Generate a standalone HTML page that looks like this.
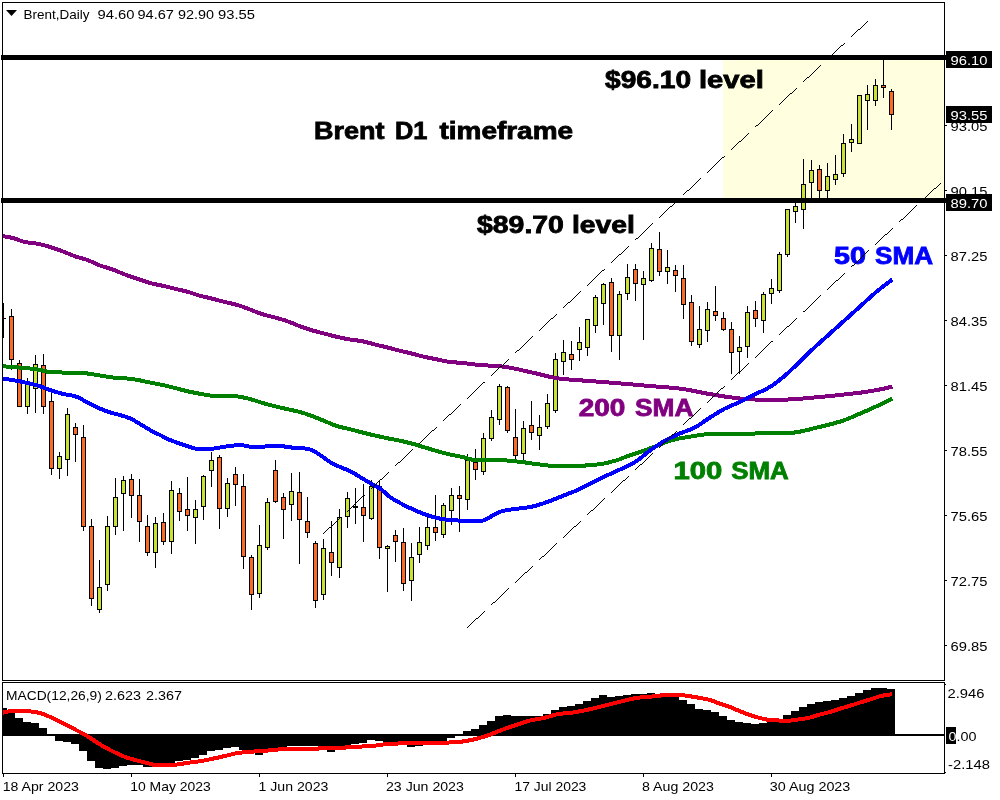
<!DOCTYPE html>
<html lang="en"><head><meta charset="utf-8"><title>Brent Daily chart</title>
<style>html,body{margin:0;padding:0;background:#fff}body{width:1000px;height:800px;overflow:hidden;font-family:"Liberation Sans", sans-serif}svg{display:block}.ax{font-family:"Liberation Sans", sans-serif;font-size:13.6px;fill:#000}.lbl{font-family:"Liberation Sans", sans-serif;font-weight:bold;font-size:24px;stroke-linejoin:miter;paint-order:stroke fill}</style></head><body>
<svg width="1000" height="800" viewBox="0 0 1000 800">
<rect width="1000" height="800" fill="#fff"/>
<rect x="723" y="60" width="221" height="138" fill="#FFFFE0" shape-rendering="crispEdges"/>
<defs><clipPath id="cp"><rect x="3" y="3" width="941" height="677"/></clipPath><clipPath id="cm"><rect x="3" y="683" width="941" height="90"/></clipPath></defs>
<g shape-rendering="crispEdges" clip-path="url(#cp)">
<rect x="3" y="303" width="1" height="35" fill="#000"/>
<rect x="1" y="318" width="5" height="1" fill="#000"/>
<rect x="11" y="309" width="1" height="61" fill="#000"/>
<rect x="9" y="316" width="5" height="44" fill="#000"/>
<rect x="10" y="317" width="3" height="42" fill="#FB6A25"/>
<rect x="19" y="360" width="1" height="47" fill="#000"/>
<rect x="17" y="363" width="5" height="44" fill="#000"/>
<rect x="18" y="364" width="3" height="42" fill="#FB6A25"/>
<rect x="27" y="378" width="1" height="36" fill="#000"/>
<rect x="25" y="384" width="5" height="23" fill="#000"/>
<rect x="26" y="385" width="3" height="21" fill="#C9E034"/>
<rect x="35" y="355" width="1" height="58" fill="#000"/>
<rect x="33" y="364" width="5" height="25" fill="#000"/>
<rect x="34" y="365" width="3" height="23" fill="#C9E034"/>
<rect x="43" y="354" width="1" height="60" fill="#000"/>
<rect x="41" y="365" width="5" height="42" fill="#000"/>
<rect x="42" y="366" width="3" height="40" fill="#FB6A25"/>
<rect x="51" y="392" width="1" height="83" fill="#000"/>
<rect x="49" y="401" width="5" height="68" fill="#000"/>
<rect x="50" y="402" width="3" height="66" fill="#FB6A25"/>
<rect x="59" y="452" width="1" height="27" fill="#000"/>
<rect x="57" y="456" width="5" height="13" fill="#000"/>
<rect x="58" y="457" width="3" height="11" fill="#C9E034"/>
<rect x="67" y="408" width="1" height="68" fill="#000"/>
<rect x="65" y="414" width="5" height="46" fill="#000"/>
<rect x="66" y="415" width="3" height="44" fill="#C9E034"/>
<rect x="75" y="423" width="1" height="39" fill="#000"/>
<rect x="73" y="427" width="5" height="8" fill="#000"/>
<rect x="74" y="428" width="3" height="6" fill="#FB6A25"/>
<rect x="83" y="425" width="1" height="106" fill="#000"/>
<rect x="81" y="437" width="5" height="90" fill="#000"/>
<rect x="82" y="438" width="3" height="88" fill="#FB6A25"/>
<rect x="91" y="519" width="1" height="87" fill="#000"/>
<rect x="89" y="526" width="5" height="73" fill="#000"/>
<rect x="90" y="527" width="3" height="71" fill="#FB6A25"/>
<rect x="99" y="560" width="1" height="53" fill="#000"/>
<rect x="97" y="587" width="5" height="23" fill="#000"/>
<rect x="98" y="588" width="3" height="21" fill="#C9E034"/>
<rect x="107" y="516" width="1" height="75" fill="#000"/>
<rect x="105" y="526" width="5" height="59" fill="#000"/>
<rect x="106" y="527" width="3" height="57" fill="#C9E034"/>
<rect x="115" y="478" width="1" height="57" fill="#000"/>
<rect x="113" y="497" width="5" height="30" fill="#000"/>
<rect x="114" y="498" width="3" height="28" fill="#C9E034"/>
<rect x="123" y="476" width="1" height="55" fill="#000"/>
<rect x="121" y="480" width="5" height="14" fill="#000"/>
<rect x="122" y="481" width="3" height="12" fill="#C9E034"/>
<rect x="131" y="474" width="1" height="44" fill="#000"/>
<rect x="129" y="479" width="5" height="17" fill="#000"/>
<rect x="130" y="480" width="3" height="15" fill="#FB6A25"/>
<rect x="139" y="479" width="1" height="63" fill="#000"/>
<rect x="137" y="495" width="5" height="27" fill="#000"/>
<rect x="138" y="496" width="3" height="25" fill="#FB6A25"/>
<rect x="147" y="515" width="1" height="41" fill="#000"/>
<rect x="145" y="526" width="5" height="27" fill="#000"/>
<rect x="146" y="527" width="3" height="25" fill="#FB6A25"/>
<rect x="155" y="517" width="1" height="51" fill="#000"/>
<rect x="153" y="523" width="5" height="30" fill="#000"/>
<rect x="154" y="524" width="3" height="28" fill="#C9E034"/>
<rect x="163" y="513" width="1" height="32" fill="#000"/>
<rect x="161" y="522" width="5" height="20" fill="#000"/>
<rect x="162" y="523" width="3" height="18" fill="#FB6A25"/>
<rect x="171" y="481" width="1" height="73" fill="#000"/>
<rect x="169" y="490" width="5" height="52" fill="#000"/>
<rect x="170" y="491" width="3" height="50" fill="#C9E034"/>
<rect x="179" y="488" width="1" height="33" fill="#000"/>
<rect x="177" y="493" width="5" height="19" fill="#000"/>
<rect x="178" y="494" width="3" height="17" fill="#FB6A25"/>
<rect x="187" y="477" width="1" height="54" fill="#000"/>
<rect x="185" y="509" width="5" height="7" fill="#000"/>
<rect x="186" y="510" width="3" height="5" fill="#FB6A25"/>
<rect x="195" y="500" width="1" height="44" fill="#000"/>
<rect x="193" y="509" width="5" height="9" fill="#000"/>
<rect x="194" y="510" width="3" height="7" fill="#C9E034"/>
<rect x="203" y="475" width="1" height="45" fill="#000"/>
<rect x="201" y="476" width="5" height="31" fill="#000"/>
<rect x="202" y="477" width="3" height="29" fill="#C9E034"/>
<rect x="211" y="452" width="1" height="35" fill="#000"/>
<rect x="209" y="460" width="5" height="11" fill="#000"/>
<rect x="210" y="461" width="3" height="9" fill="#C9E034"/>
<rect x="219" y="455" width="1" height="74" fill="#000"/>
<rect x="217" y="457" width="5" height="52" fill="#000"/>
<rect x="218" y="458" width="3" height="50" fill="#FB6A25"/>
<rect x="227" y="478" width="1" height="39" fill="#000"/>
<rect x="225" y="483" width="5" height="26" fill="#000"/>
<rect x="226" y="484" width="3" height="24" fill="#C9E034"/>
<rect x="235" y="467" width="1" height="39" fill="#000"/>
<rect x="233" y="474" width="5" height="11" fill="#000"/>
<rect x="234" y="475" width="3" height="9" fill="#FB6A25"/>
<rect x="243" y="474" width="1" height="95" fill="#000"/>
<rect x="241" y="486" width="5" height="71" fill="#000"/>
<rect x="242" y="487" width="3" height="69" fill="#FB6A25"/>
<rect x="251" y="555" width="1" height="55" fill="#000"/>
<rect x="249" y="557" width="5" height="38" fill="#000"/>
<rect x="250" y="558" width="3" height="36" fill="#FB6A25"/>
<rect x="259" y="525" width="1" height="73" fill="#000"/>
<rect x="257" y="545" width="5" height="49" fill="#000"/>
<rect x="258" y="546" width="3" height="47" fill="#C9E034"/>
<rect x="267" y="498" width="1" height="52" fill="#000"/>
<rect x="265" y="502" width="5" height="46" fill="#000"/>
<rect x="266" y="503" width="3" height="44" fill="#C9E034"/>
<rect x="275" y="460" width="1" height="43" fill="#000"/>
<rect x="273" y="470" width="5" height="32" fill="#000"/>
<rect x="274" y="471" width="3" height="30" fill="#FB6A25"/>
<rect x="283" y="493" width="1" height="46" fill="#000"/>
<rect x="281" y="497" width="5" height="13" fill="#000"/>
<rect x="282" y="498" width="3" height="11" fill="#FB6A25"/>
<rect x="291" y="473" width="1" height="48" fill="#000"/>
<rect x="289" y="491" width="5" height="14" fill="#000"/>
<rect x="290" y="492" width="3" height="12" fill="#C9E034"/>
<rect x="299" y="472" width="1" height="92" fill="#000"/>
<rect x="297" y="492" width="5" height="28" fill="#000"/>
<rect x="298" y="493" width="3" height="26" fill="#FB6A25"/>
<rect x="307" y="497" width="1" height="41" fill="#000"/>
<rect x="305" y="521" width="5" height="12" fill="#000"/>
<rect x="306" y="522" width="3" height="10" fill="#FB6A25"/>
<rect x="315" y="541" width="1" height="67" fill="#000"/>
<rect x="313" y="543" width="5" height="58" fill="#000"/>
<rect x="314" y="544" width="3" height="56" fill="#FB6A25"/>
<rect x="323" y="539" width="1" height="61" fill="#000"/>
<rect x="321" y="548" width="5" height="47" fill="#000"/>
<rect x="322" y="549" width="3" height="45" fill="#C9E034"/>
<rect x="331" y="521" width="1" height="55" fill="#000"/>
<rect x="329" y="552" width="5" height="11" fill="#000"/>
<rect x="330" y="553" width="3" height="9" fill="#FB6A25"/>
<rect x="339" y="509" width="1" height="69" fill="#000"/>
<rect x="337" y="517" width="5" height="51" fill="#000"/>
<rect x="338" y="518" width="3" height="49" fill="#C9E034"/>
<rect x="347" y="492" width="1" height="36" fill="#000"/>
<rect x="345" y="498" width="5" height="19" fill="#000"/>
<rect x="346" y="499" width="3" height="17" fill="#C9E034"/>
<rect x="355" y="488" width="1" height="36" fill="#000"/>
<rect x="353" y="506" width="5" height="2" fill="#000"/>
<rect x="363" y="484" width="1" height="58" fill="#000"/>
<rect x="361" y="507" width="5" height="9" fill="#000"/>
<rect x="362" y="508" width="3" height="7" fill="#FB6A25"/>
<rect x="371" y="480" width="1" height="40" fill="#000"/>
<rect x="369" y="486" width="5" height="33" fill="#000"/>
<rect x="370" y="487" width="3" height="31" fill="#C9E034"/>
<rect x="379" y="481" width="1" height="78" fill="#000"/>
<rect x="377" y="486" width="5" height="62" fill="#000"/>
<rect x="378" y="487" width="3" height="60" fill="#FB6A25"/>
<rect x="387" y="545" width="1" height="47" fill="#000"/>
<rect x="385" y="546" width="5" height="3" fill="#000"/>
<rect x="386" y="547" width="3" height="1" fill="#C9E034"/>
<rect x="395" y="530" width="1" height="32" fill="#000"/>
<rect x="393" y="535" width="5" height="7" fill="#000"/>
<rect x="394" y="536" width="3" height="5" fill="#FB6A25"/>
<rect x="403" y="528" width="1" height="63" fill="#000"/>
<rect x="401" y="542" width="5" height="42" fill="#000"/>
<rect x="402" y="543" width="3" height="40" fill="#FB6A25"/>
<rect x="411" y="543" width="1" height="58" fill="#000"/>
<rect x="409" y="557" width="5" height="24" fill="#000"/>
<rect x="410" y="558" width="3" height="22" fill="#C9E034"/>
<rect x="419" y="527" width="1" height="36" fill="#000"/>
<rect x="417" y="542" width="5" height="13" fill="#000"/>
<rect x="418" y="543" width="3" height="11" fill="#C9E034"/>
<rect x="427" y="516" width="1" height="34" fill="#000"/>
<rect x="425" y="527" width="5" height="19" fill="#000"/>
<rect x="426" y="528" width="3" height="17" fill="#C9E034"/>
<rect x="435" y="495" width="1" height="46" fill="#000"/>
<rect x="433" y="527" width="5" height="6" fill="#000"/>
<rect x="434" y="528" width="3" height="4" fill="#FB6A25"/>
<rect x="443" y="503" width="1" height="35" fill="#000"/>
<rect x="441" y="505" width="5" height="30" fill="#000"/>
<rect x="442" y="506" width="3" height="28" fill="#C9E034"/>
<rect x="451" y="488" width="1" height="37" fill="#000"/>
<rect x="449" y="495" width="5" height="16" fill="#000"/>
<rect x="450" y="496" width="3" height="14" fill="#C9E034"/>
<rect x="459" y="486" width="1" height="46" fill="#000"/>
<rect x="457" y="495" width="5" height="4" fill="#000"/>
<rect x="458" y="496" width="3" height="2" fill="#FB6A25"/>
<rect x="467" y="454" width="1" height="56" fill="#000"/>
<rect x="465" y="460" width="5" height="40" fill="#000"/>
<rect x="466" y="461" width="3" height="38" fill="#C9E034"/>
<rect x="475" y="449" width="1" height="31" fill="#000"/>
<rect x="473" y="462" width="5" height="8" fill="#000"/>
<rect x="474" y="463" width="3" height="6" fill="#FB6A25"/>
<rect x="483" y="433" width="1" height="42" fill="#000"/>
<rect x="481" y="438" width="5" height="34" fill="#000"/>
<rect x="482" y="439" width="3" height="32" fill="#C9E034"/>
<rect x="491" y="410" width="1" height="31" fill="#000"/>
<rect x="489" y="417" width="5" height="22" fill="#000"/>
<rect x="490" y="418" width="3" height="20" fill="#C9E034"/>
<rect x="499" y="384" width="1" height="41" fill="#000"/>
<rect x="497" y="386" width="5" height="34" fill="#000"/>
<rect x="498" y="387" width="3" height="32" fill="#C9E034"/>
<rect x="507" y="386" width="1" height="47" fill="#000"/>
<rect x="505" y="387" width="5" height="44" fill="#000"/>
<rect x="506" y="388" width="3" height="42" fill="#FB6A25"/>
<rect x="515" y="409" width="1" height="51" fill="#000"/>
<rect x="513" y="437" width="5" height="19" fill="#000"/>
<rect x="514" y="438" width="3" height="17" fill="#FB6A25"/>
<rect x="523" y="421" width="1" height="39" fill="#000"/>
<rect x="521" y="428" width="5" height="26" fill="#000"/>
<rect x="522" y="429" width="3" height="24" fill="#C9E034"/>
<rect x="531" y="401" width="1" height="39" fill="#000"/>
<rect x="529" y="425" width="5" height="8" fill="#000"/>
<rect x="530" y="426" width="3" height="6" fill="#FB6A25"/>
<rect x="539" y="415" width="1" height="35" fill="#000"/>
<rect x="537" y="427" width="5" height="9" fill="#000"/>
<rect x="538" y="428" width="3" height="7" fill="#C9E034"/>
<rect x="547" y="394" width="1" height="35" fill="#000"/>
<rect x="545" y="403" width="5" height="24" fill="#000"/>
<rect x="546" y="404" width="3" height="22" fill="#C9E034"/>
<rect x="555" y="353" width="1" height="60" fill="#000"/>
<rect x="553" y="359" width="5" height="52" fill="#000"/>
<rect x="554" y="360" width="3" height="50" fill="#C9E034"/>
<rect x="563" y="340" width="1" height="35" fill="#000"/>
<rect x="561" y="352" width="5" height="10" fill="#000"/>
<rect x="562" y="353" width="3" height="8" fill="#C9E034"/>
<rect x="571" y="341" width="1" height="29" fill="#000"/>
<rect x="569" y="354" width="5" height="6" fill="#000"/>
<rect x="570" y="355" width="3" height="4" fill="#FB6A25"/>
<rect x="579" y="327" width="1" height="34" fill="#000"/>
<rect x="577" y="342" width="5" height="8" fill="#000"/>
<rect x="578" y="343" width="3" height="6" fill="#C9E034"/>
<rect x="587" y="319" width="1" height="37" fill="#000"/>
<rect x="585" y="319" width="5" height="29" fill="#000"/>
<rect x="586" y="320" width="3" height="27" fill="#C9E034"/>
<rect x="595" y="295" width="1" height="38" fill="#000"/>
<rect x="593" y="297" width="5" height="29" fill="#000"/>
<rect x="594" y="298" width="3" height="27" fill="#C9E034"/>
<rect x="603" y="283" width="1" height="42" fill="#000"/>
<rect x="601" y="284" width="5" height="20" fill="#000"/>
<rect x="602" y="285" width="3" height="18" fill="#C9E034"/>
<rect x="611" y="278" width="1" height="74" fill="#000"/>
<rect x="609" y="282" width="5" height="54" fill="#000"/>
<rect x="610" y="283" width="3" height="52" fill="#FB6A25"/>
<rect x="619" y="291" width="1" height="69" fill="#000"/>
<rect x="617" y="294" width="5" height="42" fill="#000"/>
<rect x="618" y="295" width="3" height="40" fill="#C9E034"/>
<rect x="627" y="264" width="1" height="36" fill="#000"/>
<rect x="625" y="277" width="5" height="17" fill="#000"/>
<rect x="626" y="278" width="3" height="15" fill="#C9E034"/>
<rect x="635" y="264" width="1" height="37" fill="#000"/>
<rect x="633" y="269" width="5" height="15" fill="#000"/>
<rect x="634" y="270" width="3" height="13" fill="#FB6A25"/>
<rect x="643" y="271" width="1" height="69" fill="#000"/>
<rect x="641" y="278" width="5" height="7" fill="#000"/>
<rect x="642" y="279" width="3" height="5" fill="#C9E034"/>
<rect x="651" y="243" width="1" height="39" fill="#000"/>
<rect x="649" y="248" width="5" height="33" fill="#000"/>
<rect x="650" y="249" width="3" height="31" fill="#C9E034"/>
<rect x="659" y="232" width="1" height="44" fill="#000"/>
<rect x="657" y="249" width="5" height="23" fill="#000"/>
<rect x="658" y="250" width="3" height="21" fill="#FB6A25"/>
<rect x="667" y="250" width="1" height="34" fill="#000"/>
<rect x="665" y="267" width="5" height="5" fill="#000"/>
<rect x="666" y="268" width="3" height="3" fill="#C9E034"/>
<rect x="675" y="265" width="1" height="27" fill="#000"/>
<rect x="673" y="270" width="5" height="6" fill="#000"/>
<rect x="674" y="271" width="3" height="4" fill="#FB6A25"/>
<rect x="683" y="265" width="1" height="54" fill="#000"/>
<rect x="681" y="278" width="5" height="27" fill="#000"/>
<rect x="682" y="279" width="3" height="25" fill="#FB6A25"/>
<rect x="691" y="295" width="1" height="51" fill="#000"/>
<rect x="689" y="302" width="5" height="40" fill="#000"/>
<rect x="690" y="303" width="3" height="38" fill="#FB6A25"/>
<rect x="699" y="306" width="1" height="42" fill="#000"/>
<rect x="697" y="329" width="5" height="16" fill="#000"/>
<rect x="698" y="330" width="3" height="14" fill="#C9E034"/>
<rect x="707" y="302" width="1" height="40" fill="#000"/>
<rect x="705" y="309" width="5" height="22" fill="#000"/>
<rect x="706" y="310" width="3" height="20" fill="#C9E034"/>
<rect x="715" y="286" width="1" height="35" fill="#000"/>
<rect x="713" y="311" width="5" height="5" fill="#000"/>
<rect x="714" y="312" width="3" height="3" fill="#FB6A25"/>
<rect x="723" y="312" width="1" height="19" fill="#000"/>
<rect x="721" y="318" width="5" height="12" fill="#000"/>
<rect x="722" y="319" width="3" height="10" fill="#FB6A25"/>
<rect x="731" y="322" width="1" height="52" fill="#000"/>
<rect x="729" y="329" width="5" height="24" fill="#000"/>
<rect x="730" y="330" width="3" height="22" fill="#FB6A25"/>
<rect x="739" y="336" width="1" height="38" fill="#000"/>
<rect x="737" y="347" width="5" height="5" fill="#000"/>
<rect x="738" y="348" width="3" height="3" fill="#C9E034"/>
<rect x="747" y="306" width="1" height="52" fill="#000"/>
<rect x="745" y="312" width="5" height="35" fill="#000"/>
<rect x="746" y="313" width="3" height="33" fill="#C9E034"/>
<rect x="755" y="301" width="1" height="26" fill="#000"/>
<rect x="753" y="310" width="5" height="9" fill="#000"/>
<rect x="754" y="311" width="3" height="7" fill="#FB6A25"/>
<rect x="763" y="292" width="1" height="41" fill="#000"/>
<rect x="761" y="294" width="5" height="27" fill="#000"/>
<rect x="762" y="295" width="3" height="25" fill="#C9E034"/>
<rect x="771" y="279" width="1" height="25" fill="#000"/>
<rect x="769" y="288" width="5" height="6" fill="#000"/>
<rect x="770" y="289" width="3" height="4" fill="#C9E034"/>
<rect x="779" y="252" width="1" height="41" fill="#000"/>
<rect x="777" y="254" width="5" height="37" fill="#000"/>
<rect x="778" y="255" width="3" height="35" fill="#C9E034"/>
<rect x="787" y="209" width="1" height="48" fill="#000"/>
<rect x="785" y="209" width="5" height="46" fill="#000"/>
<rect x="786" y="210" width="3" height="44" fill="#C9E034"/>
<rect x="795" y="200" width="1" height="23" fill="#000"/>
<rect x="793" y="206" width="5" height="6" fill="#000"/>
<rect x="794" y="207" width="3" height="4" fill="#C9E034"/>
<rect x="803" y="159" width="1" height="70" fill="#000"/>
<rect x="801" y="184" width="5" height="26" fill="#000"/>
<rect x="802" y="185" width="3" height="24" fill="#C9E034"/>
<rect x="811" y="160" width="1" height="38" fill="#000"/>
<rect x="809" y="170" width="5" height="13" fill="#000"/>
<rect x="810" y="171" width="3" height="11" fill="#C9E034"/>
<rect x="819" y="165" width="1" height="33" fill="#000"/>
<rect x="817" y="169" width="5" height="22" fill="#000"/>
<rect x="818" y="170" width="3" height="20" fill="#FB6A25"/>
<rect x="827" y="163" width="1" height="35" fill="#000"/>
<rect x="825" y="176" width="5" height="15" fill="#000"/>
<rect x="826" y="177" width="3" height="13" fill="#C9E034"/>
<rect x="835" y="155" width="1" height="30" fill="#000"/>
<rect x="833" y="174" width="5" height="6" fill="#000"/>
<rect x="834" y="175" width="3" height="4" fill="#C9E034"/>
<rect x="843" y="134" width="1" height="43" fill="#000"/>
<rect x="841" y="143" width="5" height="31" fill="#000"/>
<rect x="842" y="144" width="3" height="29" fill="#C9E034"/>
<rect x="851" y="124" width="1" height="28" fill="#000"/>
<rect x="849" y="139" width="5" height="4" fill="#000"/>
<rect x="850" y="140" width="3" height="2" fill="#C9E034"/>
<rect x="859" y="95" width="1" height="49" fill="#000"/>
<rect x="857" y="95" width="5" height="49" fill="#000"/>
<rect x="858" y="96" width="3" height="47" fill="#C9E034"/>
<rect x="867" y="85" width="1" height="45" fill="#000"/>
<rect x="865" y="94" width="5" height="7" fill="#000"/>
<rect x="866" y="95" width="3" height="5" fill="#C9E034"/>
<rect x="875" y="79" width="1" height="27" fill="#000"/>
<rect x="873" y="85" width="5" height="16" fill="#000"/>
<rect x="874" y="86" width="3" height="14" fill="#C9E034"/>
<rect x="883" y="60" width="1" height="38" fill="#000"/>
<rect x="881" y="85" width="5" height="3" fill="#000"/>
<rect x="882" y="86" width="3" height="1" fill="#FB6A25"/>
<rect x="891" y="89" width="1" height="41" fill="#000"/>
<rect x="889" y="91" width="5" height="24" fill="#000"/>
<rect x="890" y="92" width="3" height="22" fill="#FB6A25"/>
</g>
<polyline points="2.0,236.0 5.0,236.5 8.0,237.0 11.0,237.6 14.0,238.4 17.0,239.4 20.0,240.5 23.0,241.5 26.0,242.2 29.0,242.6 32.0,243.0 35.0,243.4 38.0,243.8 41.0,244.5 44.0,245.3 47.0,246.1 50.0,247.0 53.0,247.9 56.0,248.9 59.0,250.0 62.0,251.1 65.0,252.2 68.0,253.5 71.0,254.7 74.0,255.9 77.0,256.9 80.0,257.8 83.0,258.6 86.0,259.5 89.0,260.6 92.0,261.9 95.0,263.3 98.0,264.7 101.0,265.9 104.0,266.8 107.0,267.7 110.0,268.7 113.0,269.7 116.0,270.8 119.0,272.1 122.0,273.3 125.0,274.5 128.0,275.6 131.0,276.6 134.0,277.6 137.0,278.6 140.0,279.6 143.0,280.7 146.0,281.8 149.0,282.7 152.0,283.5 155.0,284.2 158.0,284.8 161.0,285.4 164.0,286.1 167.0,286.8 170.0,287.5 173.0,288.3 176.0,289.0 179.0,289.7 182.0,290.4 185.0,291.1 188.0,291.9 191.0,292.8 194.0,293.8 197.0,294.8 200.0,295.8 203.0,296.5 206.0,297.2 209.0,297.9 212.0,298.6 215.0,299.4 218.0,300.2 221.0,301.0 224.0,301.7 227.0,302.5 230.0,303.2 233.0,303.8 236.0,304.6 239.0,305.5 242.0,306.5 245.0,307.6 248.0,308.7 251.0,309.9 254.0,311.1 257.0,312.3 260.0,313.4 263.0,314.4 266.0,315.2 269.0,316.0 272.0,316.7 275.0,317.5 278.0,318.3 281.0,319.2 284.0,320.1 287.0,321.1 290.0,322.2 293.0,323.4 296.0,324.7 299.0,325.9 302.0,327.0 305.0,328.1 308.0,329.1 311.0,330.0 314.0,330.9 317.0,331.7 320.0,332.5 323.0,333.2 326.0,334.0 329.0,334.8 332.0,335.6 335.0,336.4 338.0,337.1 341.0,337.8 344.0,338.4 347.0,339.0 350.0,339.5 353.0,339.9 356.0,340.3 359.0,340.7 362.0,341.2 365.0,341.8 368.0,342.6 371.0,343.4 374.0,344.2 377.0,345.0 380.0,345.7 383.0,346.4 386.0,347.1 389.0,347.9 392.0,348.7 395.0,349.5 398.0,350.2 401.0,351.0 404.0,351.7 407.0,352.4 410.0,353.1 413.0,353.9 416.0,354.7 419.0,355.5 422.0,356.3 425.0,357.0 428.0,357.6 431.0,358.2 434.0,358.8 437.0,359.4 440.0,360.0 443.0,360.7 446.0,361.4 449.0,361.9 452.0,362.2 455.0,362.4 458.0,362.6 461.0,362.9 464.0,363.2 467.0,363.5 470.0,363.9 473.0,364.3 476.0,364.6 479.0,364.9 482.0,365.1 485.0,365.3 488.0,365.5 491.0,365.7 494.0,365.9 497.0,366.0 500.0,366.2 503.0,366.6 506.0,367.0 509.0,367.5 512.0,368.1 515.0,368.7 518.0,369.3 521.0,370.0 524.0,370.7 527.0,371.4 530.0,372.0 533.0,372.7 536.0,373.4 539.0,374.1 542.0,374.9 545.0,375.6 548.0,376.4 551.0,377.0 554.0,377.7 557.0,378.2 560.0,378.6 563.0,378.9 566.0,379.2 569.0,379.5 572.0,379.7 575.0,379.9 578.0,380.1 581.0,380.4 584.0,380.6 587.0,380.8 590.0,381.0 593.0,381.2 596.0,381.5 599.0,381.7 602.0,382.0 605.0,382.2 608.0,382.4 611.0,382.7 614.0,382.9 617.0,383.2 620.0,383.4 623.0,383.7 626.0,383.9 629.0,384.2 632.0,384.4 635.0,384.7 638.0,385.0 641.0,385.2 644.0,385.5 647.0,385.7 650.0,386.0 653.0,386.3 656.0,386.5 659.0,386.7 662.0,387.0 665.0,387.2 668.0,387.4 671.0,387.7 674.0,388.0 677.0,388.3 680.0,388.6 683.0,389.0 686.0,389.5 689.0,390.0 692.0,390.6 695.0,391.2 698.0,391.8 701.0,392.4 704.0,393.0 707.0,393.6 710.0,394.1 713.0,394.6 716.0,395.1 719.0,395.6 722.0,396.1 725.0,396.6 728.0,397.0 731.0,397.4 734.0,397.8 737.0,398.1 740.0,398.5 743.0,398.8 746.0,399.1 749.0,399.3 752.0,399.4 755.0,399.5 758.0,399.5 761.0,399.5 764.0,399.5 767.0,399.5 770.0,399.5 773.0,399.5 776.0,399.5 779.0,399.5 782.0,399.5 785.0,399.5 788.0,399.5 791.0,399.4 794.0,399.2 797.0,399.0 800.0,398.8 803.0,398.5 806.0,398.2 809.0,397.9 812.0,397.7 815.0,397.4 818.0,397.1 821.0,396.9 824.0,396.6 827.0,396.3 830.0,396.0 833.0,395.7 836.0,395.4 839.0,395.1 842.0,394.7 845.0,394.4 848.0,394.1 851.0,393.7 854.0,393.4 857.0,393.0 860.0,392.7 863.0,392.3 866.0,391.8 869.0,391.4 872.0,390.9 875.0,390.4 878.0,389.8 881.0,389.2 884.0,388.6 887.0,387.9 890.0,387.2 892.4,386.6" fill="none" stroke="#800080" stroke-width="4" stroke-linejoin="round" stroke-linecap="butt" shape-rendering="crispEdges" clip-path="url(#cp)"/>
<polyline points="2.0,366.0 5.0,366.4 8.0,366.7 11.0,366.9 14.0,367.1 17.0,367.3 20.0,367.6 23.0,367.8 26.0,368.1 29.0,368.4 32.0,368.8 35.0,369.1 38.0,369.6 41.0,370.2 44.0,370.9 47.0,371.6 50.0,372.0 53.0,372.2 56.0,372.3 59.0,372.4 62.0,372.5 65.0,372.6 68.0,372.6 71.0,372.7 74.0,372.7 77.0,372.8 80.0,372.9 83.0,373.0 86.0,373.3 89.0,373.7 92.0,374.1 95.0,374.7 98.0,375.2 101.0,375.7 104.0,376.2 107.0,376.7 110.0,377.2 113.0,377.5 116.0,377.8 119.0,378.0 122.0,378.2 125.0,378.3 128.0,378.6 131.0,378.9 134.0,379.3 137.0,379.8 140.0,380.4 143.0,381.0 146.0,381.7 149.0,382.3 152.0,382.9 155.0,383.5 158.0,384.1 161.0,384.7 164.0,385.3 167.0,386.0 170.0,386.8 173.0,387.5 176.0,388.3 179.0,389.1 182.0,389.9 185.0,390.7 188.0,391.4 191.0,392.0 194.0,392.6 197.0,393.2 200.0,393.8 203.0,394.3 206.0,394.9 209.0,395.4 212.0,395.7 215.0,395.8 218.0,395.9 221.0,396.0 224.0,396.0 227.0,396.0 230.0,396.1 233.0,396.2 236.0,396.3 239.0,396.6 242.0,397.2 245.0,397.8 248.0,398.5 251.0,399.3 254.0,400.2 257.0,401.2 260.0,402.2 263.0,403.1 266.0,404.0 269.0,404.7 272.0,405.5 275.0,406.2 278.0,407.0 281.0,407.7 284.0,408.4 287.0,409.1 290.0,409.8 293.0,410.4 296.0,411.0 299.0,411.7 302.0,412.6 305.0,413.5 308.0,414.6 311.0,415.7 314.0,416.8 317.0,418.0 320.0,419.2 323.0,420.4 326.0,421.7 329.0,422.9 332.0,424.2 335.0,425.4 338.0,426.4 341.0,427.2 344.0,427.9 347.0,428.5 350.0,429.2 353.0,430.0 356.0,430.8 359.0,431.6 362.0,432.4 365.0,433.1 368.0,433.9 371.0,434.6 374.0,435.3 377.0,436.0 380.0,436.6 383.0,437.3 386.0,437.9 389.0,438.6 392.0,439.1 395.0,439.7 398.0,440.3 401.0,441.0 404.0,441.6 407.0,442.4 410.0,443.1 413.0,443.9 416.0,444.7 419.0,445.7 422.0,446.6 425.0,447.5 428.0,448.4 431.0,449.3 434.0,450.2 437.0,451.1 440.0,451.9 443.0,452.8 446.0,453.5 449.0,454.3 452.0,454.9 455.0,455.5 458.0,456.1 461.0,456.7 464.0,457.4 467.0,458.3 470.0,459.2 473.0,459.9 476.0,460.0 479.0,459.9 482.0,459.8 485.0,459.6 488.0,459.5 491.0,459.5 494.0,459.6 497.0,459.7 500.0,459.9 503.0,460.1 506.0,460.4 509.0,460.7 512.0,461.0 515.0,461.2 518.0,461.6 521.0,461.9 524.0,462.3 527.0,462.7 530.0,463.2 533.0,463.6 536.0,464.0 539.0,464.4 542.0,464.7 545.0,465.1 548.0,465.5 551.0,465.7 554.0,465.8 557.0,465.8 560.0,465.8 563.0,465.8 566.0,465.8 569.0,465.8 572.0,465.8 575.0,465.8 578.0,465.7 581.0,465.7 584.0,465.6 587.0,465.4 590.0,465.2 593.0,464.9 596.0,464.6 599.0,464.3 602.0,463.9 605.0,463.3 608.0,462.6 611.0,461.8 614.0,461.0 617.0,460.2 620.0,459.1 623.0,457.9 626.0,456.8 629.0,455.7 632.0,454.7 635.0,453.7 638.0,452.7 641.0,451.7 644.0,450.6 647.0,449.5 650.0,448.4 653.0,447.3 656.0,446.1 659.0,444.8 662.0,443.6 665.0,442.5 668.0,441.5 671.0,440.5 674.0,439.6 677.0,438.9 680.0,438.3 683.0,437.8 686.0,437.3 689.0,436.9 692.0,436.4 695.0,435.9 698.0,435.4 701.0,434.9 704.0,434.5 707.0,434.3 710.0,434.2 713.0,434.1 716.0,434.0 719.0,433.9 722.0,433.8 725.0,433.8 728.0,433.7 731.0,433.7 734.0,433.7 737.0,433.6 740.0,433.6 743.0,433.6 746.0,433.5 749.0,433.5 752.0,433.5 755.0,433.5 758.0,433.4 761.0,433.4 764.0,433.4 767.0,433.4 770.0,433.4 773.0,433.4 776.0,433.4 779.0,433.4 782.0,433.4 785.0,433.4 788.0,433.3 791.0,433.0 794.0,432.6 797.0,432.1 800.0,431.6 803.0,431.0 806.0,430.3 809.0,429.6 812.0,428.8 815.0,428.0 818.0,427.3 821.0,426.6 824.0,425.9 827.0,425.2 830.0,424.4 833.0,423.6 836.0,422.7 839.0,421.9 842.0,420.9 845.0,419.9 848.0,418.8 851.0,417.5 854.0,416.2 857.0,414.9 860.0,413.6 863.0,412.3 866.0,411.0 869.0,409.7 872.0,408.4 875.0,407.0 878.0,405.6 881.0,404.2 884.0,402.8 887.0,401.3 890.0,399.8 892.4,398.6" fill="none" stroke="#008000" stroke-width="4" stroke-linejoin="round" stroke-linecap="butt" shape-rendering="crispEdges" clip-path="url(#cp)"/>
<polyline points="2.0,378.5 5.0,378.9 8.0,379.3 11.0,379.8 14.0,380.3 17.0,380.8 20.0,381.4 23.0,382.1 26.0,382.7 29.0,383.4 32.0,384.1 35.0,384.8 38.0,385.6 41.0,386.7 44.0,387.8 47.0,388.9 50.0,390.0 53.0,391.0 56.0,391.9 59.0,392.8 62.0,393.6 65.0,394.3 68.0,394.8 71.0,395.3 74.0,396.0 77.0,396.9 80.0,398.4 83.0,400.0 86.0,401.7 89.0,403.2 92.0,404.8 95.0,406.3 98.0,407.7 101.0,409.0 104.0,410.3 107.0,411.4 110.0,412.4 113.0,413.2 116.0,414.0 119.0,414.7 122.0,415.6 125.0,416.5 128.0,417.6 131.0,418.8 134.0,420.4 137.0,422.2 140.0,424.0 143.0,425.8 146.0,427.7 149.0,429.4 152.0,431.1 155.0,432.6 158.0,434.0 161.0,435.5 164.0,437.1 167.0,438.6 170.0,440.0 173.0,441.2 176.0,442.2 179.0,443.3 182.0,444.3 185.0,445.4 188.0,446.4 191.0,447.3 194.0,448.2 197.0,449.1 200.0,449.4 203.0,449.4 206.0,449.2 209.0,449.1 212.0,448.8 215.0,448.4 218.0,447.9 221.0,447.4 224.0,446.9 227.0,446.4 230.0,446.0 233.0,445.6 236.0,445.2 239.0,445.0 242.0,445.1 245.0,445.7 248.0,446.4 251.0,446.7 254.0,446.8 257.0,447.0 260.0,447.0 263.0,446.8 266.0,446.4 269.0,446.0 272.0,446.0 275.0,446.0 278.0,446.0 281.0,446.0 284.0,446.4 287.0,447.0 290.0,447.4 293.0,447.6 296.0,447.7 299.0,447.9 302.0,448.2 305.0,448.5 308.0,449.0 311.0,449.7 314.0,451.1 317.0,453.0 320.0,455.0 323.0,457.1 326.0,459.3 329.0,461.4 332.0,463.1 335.0,464.7 338.0,466.1 341.0,467.4 344.0,468.6 347.0,469.7 350.0,471.0 353.0,472.6 356.0,474.5 359.0,476.4 362.0,478.2 365.0,480.0 368.0,481.8 371.0,483.6 374.0,485.1 377.0,486.7 380.0,488.5 383.0,490.9 386.0,493.6 389.0,496.3 392.0,498.3 395.0,500.2 398.0,501.9 401.0,503.5 404.0,505.1 407.0,506.6 410.0,508.0 413.0,509.4 416.0,510.7 419.0,512.0 422.0,513.2 425.0,514.3 428.0,515.4 431.0,516.3 434.0,517.2 437.0,518.0 440.0,518.6 443.0,519.1 446.0,519.6 449.0,519.9 452.0,520.2 455.0,520.4 458.0,520.5 461.0,520.6 464.0,520.7 467.0,520.8 470.0,520.8 473.0,520.8 476.0,520.8 479.0,520.8 482.0,520.8 485.0,519.9 488.0,518.2 491.0,516.5 494.0,514.8 497.0,513.1 500.0,511.8 503.0,511.0 506.0,510.3 509.0,509.8 512.0,509.3 515.0,509.0 518.0,508.6 521.0,508.3 524.0,507.9 527.0,507.5 530.0,507.0 533.0,506.4 536.0,505.6 539.0,504.7 542.0,503.8 545.0,502.8 548.0,501.7 551.0,500.6 554.0,499.4 557.0,498.2 560.0,497.0 563.0,495.8 566.0,494.6 569.0,493.4 572.0,492.2 575.0,491.1 578.0,489.9 581.0,488.5 584.0,486.9 587.0,485.2 590.0,483.6 593.0,482.1 596.0,480.6 599.0,479.2 602.0,477.8 605.0,476.4 608.0,475.0 611.0,473.6 614.0,472.3 617.0,470.9 620.0,469.5 623.0,468.1 626.0,466.7 629.0,465.3 632.0,463.7 635.0,462.0 638.0,460.0 641.0,457.7 644.0,455.2 647.0,452.8 650.0,450.5 653.0,448.4 656.0,446.3 659.0,444.3 662.0,442.4 665.0,440.6 668.0,439.0 671.0,437.5 674.0,436.1 677.0,434.7 680.0,433.4 683.0,432.2 686.0,431.1 689.0,430.0 692.0,428.8 695.0,427.4 698.0,425.7 701.0,423.7 704.0,421.6 707.0,419.5 710.0,417.5 713.0,415.6 716.0,413.7 719.0,411.9 722.0,410.1 725.0,408.5 728.0,407.1 731.0,405.8 734.0,404.5 737.0,403.2 740.0,401.9 743.0,400.5 746.0,399.0 749.0,397.4 752.0,395.9 755.0,394.4 758.0,392.9 761.0,391.5 764.0,390.1 767.0,388.6 770.0,386.9 773.0,385.0 776.0,382.8 779.0,380.5 782.0,378.0 785.0,375.5 788.0,372.9 791.0,370.1 794.0,367.2 797.0,364.3 800.0,361.4 803.0,358.5 806.0,355.6 809.0,352.7 812.0,349.8 815.0,347.0 818.0,344.2 821.0,341.5 824.0,338.9 827.0,336.2 830.0,333.5 833.0,330.8 836.0,328.1 839.0,325.4 842.0,322.7 845.0,320.0 848.0,317.3 851.0,314.6 854.0,311.9 857.0,309.2 860.0,306.5 863.0,303.8 866.0,301.0 869.0,298.3 872.0,295.6 875.0,293.0 878.0,290.5 881.0,288.1 884.0,285.7 887.0,283.5 890.0,281.2 892.4,279.5" fill="none" stroke="#0000FF" stroke-width="4" stroke-linejoin="round" stroke-linecap="butt" shape-rendering="crispEdges" clip-path="url(#cp)"/>
<g shape-rendering="crispEdges">
<rect x="1" y="55" width="946" height="5" fill="#000"/>
<rect x="1" y="198" width="946" height="5" fill="#000"/>
</g>
<text class="lbl" y="138.6" fill="#000" stroke="#000" stroke-width="0.8" style="font-size:23.3px"><tspan x="314.00" textLength="70.41" lengthAdjust="spacingAndGlyphs">Brent</tspan> <tspan x="395.00" textLength="32.44" lengthAdjust="spacingAndGlyphs">D1</tspan> <tspan x="439.50" textLength="133.50" lengthAdjust="spacingAndGlyphs">timeframe</tspan></text>
<text class="lbl" y="88" fill="#000" stroke="#000" stroke-width="0.8" style="font-size:23.3px"><tspan x="605.00" textLength="86.04" lengthAdjust="spacingAndGlyphs">$96.10</tspan> <tspan x="699.00" textLength="64.80" lengthAdjust="spacingAndGlyphs">level</tspan></text>
<text class="lbl" y="232.8" fill="#000" stroke="#000" stroke-width="0.8" style="font-size:23.3px"><tspan x="477.00" textLength="86.91" lengthAdjust="spacingAndGlyphs">$89.70</tspan> <tspan x="572.00" textLength="62.87" lengthAdjust="spacingAndGlyphs">level</tspan></text>
<text class="lbl" y="263.8" fill="#0000FF" stroke="#0000FF" stroke-width="0.8" style="font-size:23.3px"><tspan x="834.00" textLength="31.94" lengthAdjust="spacingAndGlyphs">50</tspan> <tspan x="875.00" textLength="58.00" lengthAdjust="spacingAndGlyphs">SMA</tspan></text>
<text class="lbl" y="415.6" fill="#800080" stroke="#800080" stroke-width="0.8" style="font-size:23.3px"><tspan x="578.75" textLength="46.67" lengthAdjust="spacingAndGlyphs">200</tspan> <tspan x="635.00" textLength="58.42" lengthAdjust="spacingAndGlyphs">SMA</tspan></text>
<text class="lbl" y="478.7" fill="#008000" stroke="#008000" stroke-width="0.8" style="font-size:23.3px"><tspan x="673.50" textLength="48.84" lengthAdjust="spacingAndGlyphs">100</tspan> <tspan x="731.25" textLength="57.53" lengthAdjust="spacingAndGlyphs">SMA</tspan></text>
<path d="M323 533h1v1h-1zM324 532h1v1h-1zM325 531h1v1h-1zM326 530h1v1h-1zM327 529h1v1h-1zM328 528h1v1h-1zM329 527h2v1h-2zM331 526h1v1h-1zM332 525h1v1h-1zM333 524h1v1h-1zM334 523h1v1h-1zM335 522h1v1h-1zM336 521h1v1h-1zM337 520h1v1h-1zM338 519h1v1h-1zM339 518h1v1h-1zM340 517h1v1h-1zM347 511h1v1h-1zM348 510h1v1h-1zM349 509h1v1h-1zM350 508h1v1h-1zM351 507h1v1h-1zM352 506h1v1h-1zM353 505h1v1h-1zM354 504h1v1h-1zM355 503h1v1h-1zM356 502h1v1h-1zM357 501h1v1h-1zM358 500h1v1h-1zM359 499h1v1h-1zM360 498h1v1h-1zM361 497h1v1h-1zM362 496h1v1h-1zM363 495h2v1h-2zM371 488h1v1h-1zM372 487h1v1h-1zM373 486h1v1h-1zM374 485h1v1h-1zM375 484h1v1h-1zM376 483h1v1h-1zM377 482h1v1h-1zM378 481h1v1h-1zM379 480h1v1h-1zM380 479h2v1h-2zM382 478h1v1h-1zM383 477h1v1h-1zM384 476h1v1h-1zM385 475h1v1h-1zM386 474h1v1h-1zM387 473h1v1h-1zM388 472h1v1h-1zM395 465h1v1h-1zM396 464h1v1h-1zM397 463h1v1h-1zM398 462h2v1h-2zM400 461h1v1h-1zM401 460h1v1h-1zM402 459h1v1h-1zM403 458h1v1h-1zM404 457h1v1h-1zM405 456h1v1h-1zM406 455h1v1h-1zM407 454h1v1h-1zM408 453h1v1h-1zM409 452h1v1h-1zM410 451h1v1h-1zM411 450h1v1h-1zM412 449h1v1h-1zM419 443h1v1h-1zM420 442h1v1h-1zM421 441h1v1h-1zM422 440h1v1h-1zM423 439h1v1h-1zM424 438h1v1h-1zM425 437h1v1h-1zM426 436h1v1h-1zM427 435h1v1h-1zM428 434h1v1h-1zM429 433h1v1h-1zM430 432h1v1h-1zM431 431h1v1h-1zM432 430h2v1h-2zM434 429h1v1h-1zM435 428h1v1h-1zM436 427h1v1h-1zM443 420h1v1h-1zM444 419h1v1h-1zM445 418h1v1h-1zM446 417h1v1h-1zM447 416h1v1h-1zM448 415h1v1h-1zM449 414h2v1h-2zM451 413h1v1h-1zM452 412h1v1h-1zM453 411h1v1h-1zM454 410h1v1h-1zM455 409h1v1h-1zM456 408h1v1h-1zM457 407h1v1h-1zM458 406h1v1h-1zM459 405h1v1h-1zM460 404h1v1h-1zM467 398h1v1h-1zM468 397h1v1h-1zM469 396h1v1h-1zM470 395h1v1h-1zM471 394h1v1h-1zM472 393h1v1h-1zM473 392h1v1h-1zM474 391h1v1h-1zM475 390h1v1h-1zM476 389h1v1h-1zM477 388h1v1h-1zM478 387h1v1h-1zM479 386h1v1h-1zM480 385h1v1h-1zM481 384h1v1h-1zM482 383h1v1h-1zM483 382h2v1h-2zM491 375h1v1h-1zM492 374h1v1h-1zM493 373h1v1h-1zM494 372h1v1h-1zM495 371h1v1h-1zM496 370h1v1h-1zM497 369h1v1h-1zM498 368h1v1h-1zM499 367h1v1h-1zM500 366h2v1h-2zM502 365h1v1h-1zM503 364h1v1h-1zM504 363h1v1h-1zM505 362h1v1h-1zM506 361h1v1h-1zM507 360h1v1h-1zM508 359h1v1h-1zM515 352h1v1h-1zM516 351h1v1h-1zM517 350h2v1h-2zM519 349h1v1h-1zM520 348h1v1h-1zM521 347h1v1h-1zM522 346h1v1h-1zM523 345h1v1h-1zM524 344h1v1h-1zM525 343h1v1h-1zM526 342h1v1h-1zM527 341h1v1h-1zM528 340h1v1h-1zM529 339h1v1h-1zM530 338h1v1h-1zM531 337h1v1h-1zM532 336h1v1h-1zM539 330h1v1h-1zM540 329h1v1h-1zM541 328h1v1h-1zM542 327h1v1h-1zM543 326h1v1h-1zM544 325h1v1h-1zM545 324h1v1h-1zM546 323h1v1h-1zM547 322h1v1h-1zM548 321h1v1h-1zM549 320h1v1h-1zM550 319h1v1h-1zM551 318h2v1h-2zM553 317h1v1h-1zM554 316h1v1h-1zM555 315h1v1h-1zM556 314h1v1h-1zM563 307h1v1h-1zM564 306h1v1h-1zM565 305h1v1h-1zM566 304h1v1h-1zM567 303h1v1h-1zM568 302h2v1h-2zM570 301h1v1h-1zM571 300h1v1h-1zM572 299h1v1h-1zM573 298h1v1h-1zM574 297h1v1h-1zM575 296h1v1h-1zM576 295h1v1h-1zM577 294h1v1h-1zM578 293h1v1h-1zM579 292h1v1h-1zM580 291h1v1h-1zM587 285h1v1h-1zM588 284h1v1h-1zM589 283h1v1h-1zM590 282h1v1h-1zM591 281h1v1h-1zM592 280h1v1h-1zM593 279h1v1h-1zM594 278h1v1h-1zM595 277h1v1h-1zM596 276h1v1h-1zM597 275h1v1h-1zM598 274h1v1h-1zM599 273h1v1h-1zM600 272h1v1h-1zM601 271h1v1h-1zM602 270h2v1h-2zM604 269h1v1h-1zM611 262h1v1h-1zM612 261h1v1h-1zM613 260h1v1h-1zM614 259h1v1h-1zM615 258h1v1h-1zM616 257h1v1h-1zM617 256h1v1h-1zM618 255h1v1h-1zM619 254h2v1h-2zM621 253h1v1h-1zM622 252h1v1h-1zM623 251h1v1h-1zM624 250h1v1h-1zM625 249h1v1h-1zM626 248h1v1h-1zM627 247h1v1h-1zM628 246h1v1h-1zM635 239h1v1h-1zM636 238h2v1h-2zM638 237h1v1h-1zM639 236h1v1h-1zM640 235h1v1h-1zM641 234h1v1h-1zM642 233h1v1h-1zM643 232h1v1h-1zM644 231h1v1h-1zM645 230h1v1h-1zM646 229h1v1h-1zM647 228h1v1h-1zM648 227h1v1h-1zM649 226h1v1h-1zM650 225h1v1h-1zM651 224h1v1h-1zM652 223h1v1h-1zM659 217h1v1h-1zM660 216h1v1h-1zM661 215h1v1h-1zM662 214h1v1h-1zM663 213h1v1h-1zM664 212h1v1h-1zM665 211h1v1h-1zM666 210h1v1h-1zM667 209h1v1h-1zM668 208h1v1h-1zM669 207h1v1h-1zM670 206h2v1h-2zM672 205h1v1h-1zM673 204h1v1h-1zM674 203h1v1h-1zM675 202h1v1h-1zM676 201h1v1h-1zM683 194h1v1h-1zM684 193h1v1h-1zM685 192h1v1h-1zM686 191h1v1h-1zM687 190h2v1h-2zM689 189h1v1h-1zM690 188h1v1h-1zM691 187h1v1h-1zM692 186h1v1h-1zM693 185h1v1h-1zM694 184h1v1h-1zM695 183h1v1h-1zM696 182h1v1h-1zM697 181h1v1h-1zM698 180h1v1h-1zM699 179h1v1h-1zM700 178h1v1h-1zM707 172h1v1h-1zM708 171h1v1h-1zM709 170h1v1h-1zM710 169h1v1h-1zM711 168h1v1h-1zM712 167h1v1h-1zM713 166h1v1h-1zM714 165h1v1h-1zM715 164h1v1h-1zM716 163h1v1h-1zM717 162h1v1h-1zM718 161h1v1h-1zM719 160h1v1h-1zM720 159h1v1h-1zM721 158h1v1h-1zM722 157h2v1h-2zM724 156h1v1h-1zM731 149h1v1h-1zM732 148h1v1h-1zM733 147h1v1h-1zM734 146h1v1h-1zM735 145h1v1h-1zM736 144h1v1h-1zM737 143h1v1h-1zM738 142h1v1h-1zM739 141h2v1h-2zM741 140h1v1h-1zM742 139h1v1h-1zM743 138h1v1h-1zM744 137h1v1h-1zM745 136h1v1h-1zM746 135h1v1h-1zM747 134h1v1h-1zM748 133h1v1h-1zM755 126h1v1h-1zM756 125h2v1h-2zM758 124h1v1h-1zM759 123h1v1h-1zM760 122h1v1h-1zM761 121h1v1h-1zM762 120h1v1h-1zM763 119h1v1h-1zM764 118h1v1h-1zM765 117h1v1h-1zM766 116h1v1h-1zM767 115h1v1h-1zM768 114h1v1h-1zM769 113h1v1h-1zM770 112h1v1h-1zM771 111h1v1h-1zM772 110h1v1h-1zM779 104h1v1h-1zM780 103h1v1h-1zM781 102h1v1h-1zM782 101h1v1h-1zM783 100h1v1h-1zM784 99h1v1h-1zM785 98h1v1h-1zM786 97h1v1h-1zM787 96h1v1h-1zM788 95h1v1h-1zM789 94h1v1h-1zM790 93h2v1h-2zM792 92h1v1h-1zM793 91h1v1h-1zM794 90h1v1h-1zM795 89h1v1h-1zM796 88h1v1h-1zM803 81h1v1h-1zM804 80h1v1h-1zM805 79h1v1h-1zM806 78h1v1h-1zM807 77h2v1h-2zM809 76h1v1h-1zM810 75h1v1h-1zM811 74h1v1h-1zM812 73h1v1h-1zM813 72h1v1h-1zM814 71h1v1h-1zM815 70h1v1h-1zM816 69h1v1h-1zM817 68h1v1h-1zM818 67h1v1h-1zM819 66h1v1h-1zM820 65h1v1h-1zM827 59h1v1h-1zM828 58h1v1h-1zM829 57h1v1h-1zM830 56h1v1h-1zM831 55h1v1h-1zM832 54h1v1h-1zM833 53h1v1h-1zM834 52h1v1h-1zM835 51h1v1h-1zM836 50h1v1h-1zM837 49h1v1h-1zM838 48h1v1h-1zM839 47h1v1h-1zM840 46h1v1h-1zM841 45h2v1h-2zM843 44h1v1h-1zM844 43h1v1h-1zM851 36h1v1h-1zM852 35h1v1h-1zM853 34h1v1h-1zM854 33h1v1h-1zM855 32h1v1h-1zM856 31h1v1h-1zM857 30h1v1h-1zM858 29h2v1h-2zM860 28h1v1h-1zM861 27h1v1h-1zM862 26h1v1h-1zM863 25h1v1h-1zM864 24h1v1h-1zM865 23h1v1h-1zM866 22h1v1h-1zM867 21h1v1h-1z" fill="#000" shape-rendering="crispEdges"/>
<path d="M467 627h1v1h-1zM468 626h1v1h-1zM469 625h1v1h-1zM470 624h1v1h-1zM471 623h1v1h-1zM472 622h1v1h-1zM473 621h1v1h-1zM474 620h1v1h-1zM475 619h1v1h-1zM476 618h2v1h-2zM478 617h1v1h-1zM479 616h1v1h-1zM480 615h1v1h-1zM481 614h1v1h-1zM482 613h1v1h-1zM483 612h1v1h-1zM484 611h1v1h-1zM491 604h1v1h-1zM492 603h1v1h-1zM493 602h2v1h-2zM495 601h1v1h-1zM496 600h1v1h-1zM497 599h1v1h-1zM498 598h1v1h-1zM499 597h1v1h-1zM500 596h1v1h-1zM501 595h1v1h-1zM502 594h1v1h-1zM503 593h1v1h-1zM504 592h1v1h-1zM505 591h1v1h-1zM506 590h1v1h-1zM507 589h1v1h-1zM508 588h1v1h-1zM515 582h1v1h-1zM516 581h1v1h-1zM517 580h1v1h-1zM518 579h1v1h-1zM519 578h1v1h-1zM520 577h1v1h-1zM521 576h1v1h-1zM522 575h1v1h-1zM523 574h1v1h-1zM524 573h1v1h-1zM525 572h2v1h-2zM527 571h1v1h-1zM528 570h1v1h-1zM529 569h1v1h-1zM530 568h1v1h-1zM531 567h1v1h-1zM532 566h1v1h-1zM539 559h1v1h-1zM540 558h1v1h-1zM541 557h1v1h-1zM542 556h2v1h-2zM544 555h1v1h-1zM545 554h1v1h-1zM546 553h1v1h-1zM547 552h1v1h-1zM548 551h1v1h-1zM549 550h1v1h-1zM550 549h1v1h-1zM551 548h1v1h-1zM552 547h1v1h-1zM553 546h1v1h-1zM554 545h1v1h-1zM555 544h1v1h-1zM556 543h1v1h-1zM563 537h1v1h-1zM564 536h1v1h-1zM565 535h1v1h-1zM566 534h1v1h-1zM567 533h1v1h-1zM568 532h1v1h-1zM569 531h1v1h-1zM570 530h1v1h-1zM571 529h1v1h-1zM572 528h1v1h-1zM573 527h1v1h-1zM574 526h2v1h-2zM576 525h1v1h-1zM577 524h1v1h-1zM578 523h1v1h-1zM579 522h1v1h-1zM580 521h1v1h-1zM587 514h1v1h-1zM588 513h1v1h-1zM589 512h1v1h-1zM590 511h1v1h-1zM591 510h2v1h-2zM593 509h1v1h-1zM594 508h1v1h-1zM595 507h1v1h-1zM596 506h1v1h-1zM597 505h1v1h-1zM598 504h1v1h-1zM599 503h1v1h-1zM600 502h1v1h-1zM601 501h1v1h-1zM602 500h1v1h-1zM603 499h1v1h-1zM604 498h1v1h-1zM611 492h1v1h-1zM612 491h1v1h-1zM613 490h1v1h-1zM614 489h1v1h-1zM615 488h1v1h-1zM616 487h1v1h-1zM617 486h1v1h-1zM618 485h1v1h-1zM619 484h1v1h-1zM620 483h1v1h-1zM621 482h1v1h-1zM622 481h1v1h-1zM623 480h2v1h-2zM625 479h1v1h-1zM626 478h1v1h-1zM627 477h1v1h-1zM628 476h1v1h-1zM635 469h1v1h-1zM636 468h1v1h-1zM637 467h1v1h-1zM638 466h1v1h-1zM639 465h1v1h-1zM640 464h2v1h-2zM642 463h1v1h-1zM643 462h1v1h-1zM644 461h1v1h-1zM645 460h1v1h-1zM646 459h1v1h-1zM647 458h1v1h-1zM648 457h1v1h-1zM649 456h1v1h-1zM650 455h1v1h-1zM651 454h1v1h-1zM652 453h1v1h-1zM659 447h1v1h-1zM660 446h1v1h-1zM661 445h1v1h-1zM662 444h1v1h-1zM663 443h1v1h-1zM664 442h1v1h-1zM665 441h1v1h-1zM666 440h1v1h-1zM667 439h1v1h-1zM668 438h1v1h-1zM669 437h1v1h-1zM670 436h1v1h-1zM671 435h1v1h-1zM672 434h2v1h-2zM674 433h1v1h-1zM675 432h1v1h-1zM676 431h1v1h-1zM683 424h1v1h-1zM684 423h1v1h-1zM685 422h1v1h-1zM686 421h1v1h-1zM687 420h1v1h-1zM688 419h1v1h-1zM689 418h2v1h-2zM691 417h1v1h-1zM692 416h1v1h-1zM693 415h1v1h-1zM694 414h1v1h-1zM695 413h1v1h-1zM696 412h1v1h-1zM697 411h1v1h-1zM698 410h1v1h-1zM699 409h1v1h-1zM700 408h1v1h-1zM707 402h1v1h-1zM708 401h1v1h-1zM709 400h1v1h-1zM710 399h1v1h-1zM711 398h1v1h-1zM712 397h1v1h-1zM713 396h1v1h-1zM714 395h1v1h-1zM715 394h1v1h-1zM716 393h1v1h-1zM717 392h1v1h-1zM718 391h1v1h-1zM719 390h1v1h-1zM720 389h1v1h-1zM721 388h2v1h-2zM723 387h1v1h-1zM724 386h1v1h-1zM731 379h1v1h-1zM732 378h1v1h-1zM733 377h1v1h-1zM734 376h1v1h-1zM735 375h1v1h-1zM736 374h1v1h-1zM737 373h1v1h-1zM738 372h2v1h-2zM740 371h1v1h-1zM741 370h1v1h-1zM742 369h1v1h-1zM743 368h1v1h-1zM744 367h1v1h-1zM745 366h1v1h-1zM746 365h1v1h-1zM747 364h1v1h-1zM748 363h1v1h-1zM755 357h1v1h-1zM756 356h1v1h-1zM757 355h1v1h-1zM758 354h1v1h-1zM759 353h1v1h-1zM760 352h1v1h-1zM761 351h1v1h-1zM762 350h1v1h-1zM763 349h1v1h-1zM764 348h1v1h-1zM765 347h1v1h-1zM766 346h1v1h-1zM767 345h1v1h-1zM768 344h1v1h-1zM769 343h1v1h-1zM770 342h1v1h-1zM771 341h2v1h-2zM779 334h1v1h-1zM780 333h1v1h-1zM781 332h1v1h-1zM782 331h1v1h-1zM783 330h1v1h-1zM784 329h1v1h-1zM785 328h1v1h-1zM786 327h1v1h-1zM787 326h2v1h-2zM789 325h1v1h-1zM790 324h1v1h-1zM791 323h1v1h-1zM792 322h1v1h-1zM793 321h1v1h-1zM794 320h1v1h-1zM795 319h1v1h-1zM796 318h1v1h-1zM803 311h2v1h-2zM805 310h1v1h-1zM806 309h1v1h-1zM807 308h1v1h-1zM808 307h1v1h-1zM809 306h1v1h-1zM810 305h1v1h-1zM811 304h1v1h-1zM812 303h1v1h-1zM813 302h1v1h-1zM814 301h1v1h-1zM815 300h1v1h-1zM816 299h1v1h-1zM817 298h1v1h-1zM818 297h1v1h-1zM819 296h1v1h-1zM820 295h1v1h-1zM827 289h1v1h-1zM828 288h1v1h-1zM829 287h1v1h-1zM830 286h1v1h-1zM831 285h1v1h-1zM832 284h1v1h-1zM833 283h1v1h-1zM834 282h1v1h-1zM835 281h1v1h-1zM836 280h2v1h-2zM838 279h1v1h-1zM839 278h1v1h-1zM840 277h1v1h-1zM841 276h1v1h-1zM842 275h1v1h-1zM843 274h1v1h-1zM844 273h1v1h-1zM851 266h1v1h-1zM852 265h2v1h-2zM854 264h1v1h-1zM855 263h1v1h-1zM856 262h1v1h-1zM857 261h1v1h-1zM858 260h1v1h-1zM859 259h1v1h-1zM860 258h1v1h-1zM861 257h1v1h-1zM862 256h1v1h-1zM863 255h1v1h-1zM864 254h1v1h-1zM865 253h1v1h-1zM866 252h1v1h-1zM867 251h1v1h-1zM868 250h1v1h-1zM875 244h1v1h-1zM876 243h1v1h-1zM877 242h1v1h-1zM878 241h1v1h-1zM879 240h1v1h-1zM880 239h1v1h-1zM881 238h1v1h-1zM882 237h1v1h-1zM883 236h1v1h-1zM884 235h1v1h-1zM885 234h2v1h-2zM887 233h1v1h-1zM888 232h1v1h-1zM889 231h1v1h-1zM890 230h1v1h-1zM891 229h1v1h-1zM892 228h1v1h-1zM899 221h1v1h-1zM900 220h1v1h-1zM901 219h2v1h-2zM903 218h1v1h-1zM904 217h1v1h-1zM905 216h1v1h-1zM906 215h1v1h-1zM907 214h1v1h-1zM908 213h1v1h-1zM909 212h1v1h-1zM910 211h1v1h-1zM911 210h1v1h-1zM912 209h1v1h-1zM913 208h1v1h-1zM914 207h1v1h-1zM915 206h1v1h-1zM916 205h1v1h-1zM923 199h1v1h-1zM924 198h1v1h-1zM925 197h1v1h-1zM926 196h1v1h-1zM927 195h1v1h-1zM928 194h1v1h-1zM929 193h1v1h-1zM930 192h1v1h-1zM931 191h1v1h-1zM932 190h1v1h-1zM933 189h1v1h-1zM934 188h2v1h-2zM936 187h1v1h-1zM937 186h1v1h-1zM938 185h1v1h-1zM939 184h1v1h-1zM940 183h1v1h-1z" fill="#000" shape-rendering="crispEdges"/>
<g shape-rendering="crispEdges" fill="#000">
<rect x="2" y="2" width="943" height="1"/>
<rect x="2" y="2" width="1" height="772"/>
<rect x="944" y="2" width="1" height="772"/>
<rect x="2" y="680" width="943" height="1"/>
<rect x="2" y="682" width="943" height="1"/>
<rect x="2" y="773" width="943" height="1"/>
<rect x="2" y="681" width="943" height="1" fill="#fff"/>
<rect x="945" y="125" width="2" height="1"/>
<rect x="945" y="190" width="2" height="1"/>
<rect x="945" y="255" width="2" height="1"/>
<rect x="945" y="320" width="2" height="1"/>
<rect x="945" y="385" width="2" height="1"/>
<rect x="945" y="450" width="2" height="1"/>
<rect x="945" y="515" width="2" height="1"/>
<rect x="945" y="580" width="2" height="1"/>
<rect x="945" y="645" width="2" height="1"/>
<rect x="945" y="684" width="1" height="1"/><rect x="945" y="772" width="1" height="1"/>
<rect x="3" y="774" width="1" height="3"/>
<rect x="131" y="774" width="1" height="3"/>
<rect x="259" y="774" width="1" height="3"/>
<rect x="387" y="774" width="1" height="3"/>
<rect x="515" y="774" width="1" height="3"/>
<rect x="643" y="774" width="1" height="3"/>
<rect x="771" y="774" width="1" height="3"/>
</g>
<text class="ax" x="950.50" y="131" textLength="36.93" lengthAdjust="spacingAndGlyphs">93.05</text>
<text class="ax" x="950.50" y="196" textLength="36.93" lengthAdjust="spacingAndGlyphs">90.15</text>
<text class="ax" x="950.50" y="261" textLength="36.93" lengthAdjust="spacingAndGlyphs">87.25</text>
<text class="ax" x="950.50" y="326" textLength="36.93" lengthAdjust="spacingAndGlyphs">84.35</text>
<text class="ax" x="950.50" y="391" textLength="36.93" lengthAdjust="spacingAndGlyphs">81.45</text>
<text class="ax" x="950.50" y="456" textLength="36.93" lengthAdjust="spacingAndGlyphs">78.55</text>
<text class="ax" x="950.50" y="521" textLength="36.93" lengthAdjust="spacingAndGlyphs">75.65</text>
<text class="ax" x="950.50" y="586" textLength="36.93" lengthAdjust="spacingAndGlyphs">72.75</text>
<text class="ax" x="950.50" y="651" textLength="36.93" lengthAdjust="spacingAndGlyphs">69.85</text>
<rect x="946" y="51" width="46" height="17" fill="#000" shape-rendering="crispEdges"/>
<text class="ax" x="950.50" y="65" textLength="36.93" lengthAdjust="spacingAndGlyphs" style="fill:#fff">96.10</text>
<rect x="946" y="106" width="46" height="17" fill="#000" shape-rendering="crispEdges"/>
<text class="ax" x="950.50" y="120" textLength="36.93" lengthAdjust="spacingAndGlyphs" style="fill:#fff">93.55</text>
<rect x="946" y="194" width="46" height="17" fill="#000" shape-rendering="crispEdges"/>
<text class="ax" x="950.50" y="208" textLength="36.93" lengthAdjust="spacingAndGlyphs" style="fill:#fff">89.70</text>
<path d="M6 10h11l-5.5 6z" fill="#000"/>
<text class="ax" y="19"><tspan x="23.50" textLength="65.90" lengthAdjust="spacingAndGlyphs">Brent,Daily</tspan> <tspan x="97.50" textLength="36.95" lengthAdjust="spacingAndGlyphs">94.60</tspan> <tspan x="137.50" textLength="36.40" lengthAdjust="spacingAndGlyphs">94.67</tspan> <tspan x="178.00" textLength="36.01" lengthAdjust="spacingAndGlyphs">92.90</tspan> <tspan x="218.00" textLength="36.93" lengthAdjust="spacingAndGlyphs">93.55</tspan></text>
<g shape-rendering="crispEdges" fill="#000" clip-path="url(#cm)">
<rect x="3" y="708" width="4" height="28"/>
<rect x="7" y="712" width="8" height="24"/>
<rect x="15" y="718" width="8" height="18"/>
<rect x="23" y="722" width="8" height="14"/>
<rect x="31" y="723" width="8" height="13"/>
<rect x="39" y="728" width="8" height="8"/>
<rect x="47" y="734" width="8" height="2"/>
<rect x="55" y="734" width="8" height="7"/>
<rect x="63" y="734" width="8" height="8"/>
<rect x="71" y="734" width="8" height="10"/>
<rect x="79" y="734" width="8" height="17"/>
<rect x="87" y="734" width="8" height="27"/>
<rect x="95" y="734" width="8" height="34"/>
<rect x="103" y="734" width="8" height="35"/>
<rect x="111" y="734" width="8" height="34"/>
<rect x="119" y="734" width="8" height="32"/>
<rect x="127" y="734" width="8" height="31"/>
<rect x="135" y="734" width="8" height="31"/>
<rect x="143" y="734" width="8" height="33"/>
<rect x="151" y="734" width="8" height="33"/>
<rect x="159" y="734" width="8" height="31"/>
<rect x="167" y="734" width="8" height="29"/>
<rect x="175" y="734" width="8" height="27"/>
<rect x="183" y="734" width="8" height="26"/>
<rect x="191" y="734" width="8" height="24"/>
<rect x="199" y="734" width="8" height="21"/>
<rect x="207" y="734" width="8" height="17"/>
<rect x="215" y="734" width="8" height="16"/>
<rect x="223" y="734" width="8" height="14"/>
<rect x="231" y="734" width="8" height="13"/>
<rect x="239" y="734" width="8" height="16"/>
<rect x="247" y="734" width="8" height="17"/>
<rect x="255" y="734" width="8" height="21"/>
<rect x="263" y="734" width="8" height="17"/>
<rect x="271" y="734" width="8" height="15"/>
<rect x="279" y="734" width="8" height="15"/>
<rect x="287" y="734" width="8" height="12"/>
<rect x="295" y="734" width="8" height="12"/>
<rect x="303" y="734" width="8" height="12"/>
<rect x="311" y="734" width="8" height="12"/>
<rect x="319" y="734" width="8" height="14"/>
<rect x="327" y="734" width="8" height="18"/>
<rect x="335" y="734" width="8" height="14"/>
<rect x="343" y="734" width="8" height="14"/>
<rect x="351" y="734" width="8" height="10"/>
<rect x="359" y="734" width="8" height="9"/>
<rect x="367" y="734" width="8" height="6"/>
<rect x="375" y="734" width="8" height="7"/>
<rect x="383" y="734" width="8" height="8"/>
<rect x="391" y="734" width="8" height="10"/>
<rect x="399" y="734" width="8" height="10"/>
<rect x="407" y="734" width="8" height="13"/>
<rect x="415" y="734" width="8" height="12"/>
<rect x="423" y="734" width="8" height="8"/>
<rect x="431" y="734" width="8" height="8"/>
<rect x="439" y="734" width="8" height="8"/>
<rect x="447" y="734" width="8" height="4"/>
<rect x="455" y="734" width="8" height="2"/>
<rect x="463" y="731" width="8" height="5"/>
<rect x="471" y="729" width="8" height="7"/>
<rect x="479" y="725" width="8" height="11"/>
<rect x="487" y="721" width="8" height="15"/>
<rect x="495" y="716" width="8" height="20"/>
<rect x="503" y="715" width="8" height="21"/>
<rect x="511" y="716" width="8" height="20"/>
<rect x="519" y="716" width="8" height="20"/>
<rect x="527" y="716" width="8" height="20"/>
<rect x="535" y="716" width="8" height="20"/>
<rect x="543" y="714" width="8" height="22"/>
<rect x="551" y="710" width="8" height="26"/>
<rect x="559" y="707" width="8" height="29"/>
<rect x="567" y="706" width="8" height="30"/>
<rect x="575" y="704" width="8" height="32"/>
<rect x="583" y="701" width="8" height="35"/>
<rect x="591" y="698" width="8" height="38"/>
<rect x="599" y="695" width="8" height="41"/>
<rect x="607" y="697" width="8" height="39"/>
<rect x="615" y="696" width="8" height="40"/>
<rect x="623" y="695" width="8" height="41"/>
<rect x="631" y="694" width="8" height="42"/>
<rect x="639" y="694" width="8" height="42"/>
<rect x="647" y="693" width="8" height="43"/>
<rect x="655" y="694" width="8" height="42"/>
<rect x="663" y="694" width="8" height="42"/>
<rect x="671" y="696" width="8" height="40"/>
<rect x="679" y="700" width="8" height="36"/>
<rect x="687" y="704" width="8" height="32"/>
<rect x="695" y="709" width="8" height="27"/>
<rect x="703" y="710" width="8" height="26"/>
<rect x="711" y="712" width="8" height="24"/>
<rect x="719" y="716" width="8" height="20"/>
<rect x="727" y="720" width="8" height="16"/>
<rect x="735" y="722" width="8" height="14"/>
<rect x="743" y="723" width="8" height="13"/>
<rect x="751" y="724" width="8" height="12"/>
<rect x="759" y="723" width="8" height="13"/>
<rect x="767" y="721" width="8" height="15"/>
<rect x="775" y="719" width="8" height="17"/>
<rect x="783" y="715" width="8" height="21"/>
<rect x="791" y="711" width="8" height="25"/>
<rect x="799" y="707" width="8" height="29"/>
<rect x="807" y="704" width="8" height="32"/>
<rect x="815" y="702" width="8" height="34"/>
<rect x="823" y="701" width="8" height="35"/>
<rect x="831" y="700" width="8" height="36"/>
<rect x="839" y="698" width="8" height="38"/>
<rect x="847" y="696" width="8" height="40"/>
<rect x="855" y="693" width="8" height="43"/>
<rect x="863" y="690" width="8" height="46"/>
<rect x="871" y="688" width="8" height="48"/>
<rect x="879" y="688" width="8" height="48"/>
<rect x="887" y="689" width="8" height="47"/>
<rect x="3" y="734" width="941" height="2"/>
</g>
<polyline points="2.0,712.9 5.0,712.1 8.0,711.5 11.0,711.1 14.0,711.0 17.0,711.0 20.0,711.0 23.0,711.0 26.0,711.0 29.0,711.2 32.0,711.6 35.0,712.1 38.0,712.6 41.0,713.4 44.0,714.4 47.0,715.6 50.0,716.9 53.0,718.2 56.0,719.7 59.0,721.3 62.0,722.8 65.0,724.3 68.0,725.8 71.0,727.3 74.0,728.9 77.0,730.5 80.0,732.0 83.0,733.7 86.0,735.4 89.0,737.2 92.0,739.1 95.0,741.2 98.0,743.2 101.0,745.0 104.0,746.7 107.0,748.4 110.0,750.0 113.0,751.5 116.0,753.0 119.0,754.4 122.0,755.7 125.0,756.9 128.0,757.9 131.0,758.8 134.0,759.7 137.0,760.5 140.0,761.3 143.0,762.0 146.0,762.7 149.0,763.5 152.0,764.4 155.0,765.3 158.0,765.4 161.0,765.4 164.0,765.4 167.0,765.4 170.0,765.4 173.0,765.0 176.0,764.6 179.0,764.2 182.0,763.7 185.0,763.3 188.0,762.8 191.0,762.4 194.0,762.1 197.0,761.7 200.0,761.2 203.0,760.7 206.0,760.1 209.0,759.5 212.0,758.9 215.0,758.2 218.0,757.6 221.0,756.9 224.0,756.2 227.0,755.5 230.0,754.7 233.0,754.0 236.0,753.3 239.0,752.9 242.0,752.5 245.0,752.2 248.0,752.0 251.0,751.7 254.0,751.5 257.0,751.4 260.0,751.2 263.0,751.0 266.0,750.7 269.0,750.4 272.0,750.0 275.0,749.8 278.0,749.5 281.0,749.1 284.0,748.9 287.0,748.8 290.0,748.8 293.0,748.8 296.0,748.8 299.0,748.8 302.0,748.8 305.0,748.8 308.0,748.8 311.0,748.8 314.0,748.7 317.0,748.6 320.0,748.4 323.0,748.2 326.0,748.1 329.0,748.0 332.0,748.0 335.0,748.0 338.0,747.9 341.0,747.8 344.0,747.6 347.0,747.4 350.0,747.2 353.0,747.1 356.0,746.9 359.0,746.7 362.0,746.5 365.0,746.3 368.0,746.1 371.0,745.9 374.0,745.7 377.0,745.4 380.0,745.0 383.0,744.5 386.0,744.1 389.0,743.9 392.0,743.7 395.0,743.6 398.0,743.5 401.0,743.4 404.0,743.3 407.0,743.2 410.0,743.1 413.0,743.1 416.0,743.0 419.0,743.0 422.0,742.9 425.0,742.9 428.0,742.9 431.0,742.9 434.0,742.9 437.0,742.9 440.0,742.9 443.0,742.8 446.0,742.7 449.0,742.5 452.0,742.4 455.0,742.2 458.0,742.0 461.0,741.7 464.0,741.3 467.0,740.8 470.0,740.2 473.0,739.6 476.0,738.9 479.0,738.1 482.0,737.3 485.0,736.4 488.0,735.4 491.0,734.2 494.0,733.0 497.0,731.8 500.0,730.6 503.0,729.5 506.0,728.4 509.0,727.3 512.0,726.3 515.0,725.4 518.0,724.4 521.0,723.4 524.0,722.4 527.0,721.3 530.0,720.5 533.0,719.9 536.0,719.4 539.0,718.9 542.0,718.3 545.0,717.6 548.0,716.8 551.0,716.0 554.0,715.1 557.0,714.3 560.0,713.8 563.0,713.5 566.0,713.3 569.0,713.1 572.0,712.7 575.0,712.2 578.0,711.6 581.0,711.1 584.0,710.5 587.0,709.9 590.0,709.2 593.0,708.5 596.0,707.8 599.0,707.0 602.0,706.2 605.0,705.5 608.0,704.8 611.0,704.0 614.0,703.2 617.0,702.5 620.0,701.8 623.0,701.0 626.0,700.2 629.0,699.5 632.0,698.8 635.0,698.2 638.0,697.8 641.0,697.4 644.0,697.2 647.0,697.0 650.0,696.8 653.0,696.4 656.0,696.0 659.0,695.6 662.0,695.4 665.0,695.2 668.0,695.0 671.0,695.0 674.0,695.0 677.0,695.0 680.0,695.0 683.0,695.2 686.0,695.6 689.0,696.1 692.0,696.6 695.0,697.1 698.0,697.6 701.0,698.2 704.0,698.7 707.0,699.3 710.0,700.0 713.0,701.0 716.0,702.2 719.0,703.4 722.0,704.4 725.0,705.3 728.0,706.3 731.0,707.4 734.0,708.6 737.0,710.0 740.0,711.2 743.0,712.4 746.0,713.6 749.0,714.7 752.0,715.7 755.0,716.6 758.0,717.5 761.0,718.2 764.0,719.0 767.0,719.6 770.0,720.0 773.0,720.2 776.0,720.4 779.0,720.5 782.0,720.5 785.0,720.5 788.0,720.5 791.0,720.5 794.0,720.2 797.0,719.7 800.0,719.2 803.0,718.8 806.0,718.3 809.0,717.7 812.0,717.0 815.0,716.1 818.0,715.1 821.0,714.2 824.0,713.5 827.0,712.8 830.0,712.0 833.0,711.1 836.0,710.1 839.0,709.1 842.0,708.1 845.0,707.3 848.0,706.4 851.0,705.4 854.0,704.5 857.0,703.5 860.0,702.5 863.0,701.6 866.0,700.7 869.0,699.8 872.0,698.8 875.0,697.8 878.0,696.8 881.0,696.0 884.0,695.4 887.0,694.9 890.0,694.5 892.0,694.3" fill="none" stroke="#FF0000" stroke-width="4" stroke-linejoin="round" stroke-linecap="butt" shape-rendering="crispEdges" clip-path="url(#cm)"/>
<text class="ax" y="700"><tspan x="6.00" textLength="95.84" lengthAdjust="spacingAndGlyphs">MACD(12,26,9)</tspan> <tspan x="105.00" textLength="35.93" lengthAdjust="spacingAndGlyphs">2.623</tspan> <tspan x="146.00" textLength="35.91" lengthAdjust="spacingAndGlyphs">2.367</tspan></text>
<text class="ax" y="698"><tspan x="947.50" textLength="36.88" lengthAdjust="spacingAndGlyphs">2.946</tspan></text>
<rect x="946" y="727" width="10" height="17" fill="#000" shape-rendering="crispEdges"/>
<text class="ax" x="948.50" y="741" textLength="27.97" lengthAdjust="spacingAndGlyphs"><tspan style="fill:#fff">0</tspan>.00</text>
<text class="ax" y="769"><tspan x="948.00" textLength="41.87" lengthAdjust="spacingAndGlyphs">-2.148</tspan></text>
<text class="ax" y="790.5"><tspan x="2.75" textLength="76.11" lengthAdjust="spacingAndGlyphs">18 Apr 2023</tspan></text>
<text class="ax" y="790.5"><tspan x="130.25" textLength="80.58" lengthAdjust="spacingAndGlyphs">10 May 2023</tspan></text>
<text class="ax" y="790.5"><tspan x="258.50" textLength="69.85" lengthAdjust="spacingAndGlyphs">1 Jun 2023</tspan></text>
<text class="ax" y="790.5"><tspan x="386.00" textLength="77.85" lengthAdjust="spacingAndGlyphs">23 Jun 2023</tspan></text>
<text class="ax" y="790.5"><tspan x="514.50" textLength="71.85" lengthAdjust="spacingAndGlyphs">17 Jul 2023</tspan></text>
<text class="ax" y="790.5"><tspan x="642.00" textLength="71.85" lengthAdjust="spacingAndGlyphs">8 Aug 2023</tspan></text>
<text class="ax" y="790.5"><tspan x="769.75" textLength="80.58" lengthAdjust="spacingAndGlyphs">30 Aug 2023</tspan></text>
</svg></body></html>
